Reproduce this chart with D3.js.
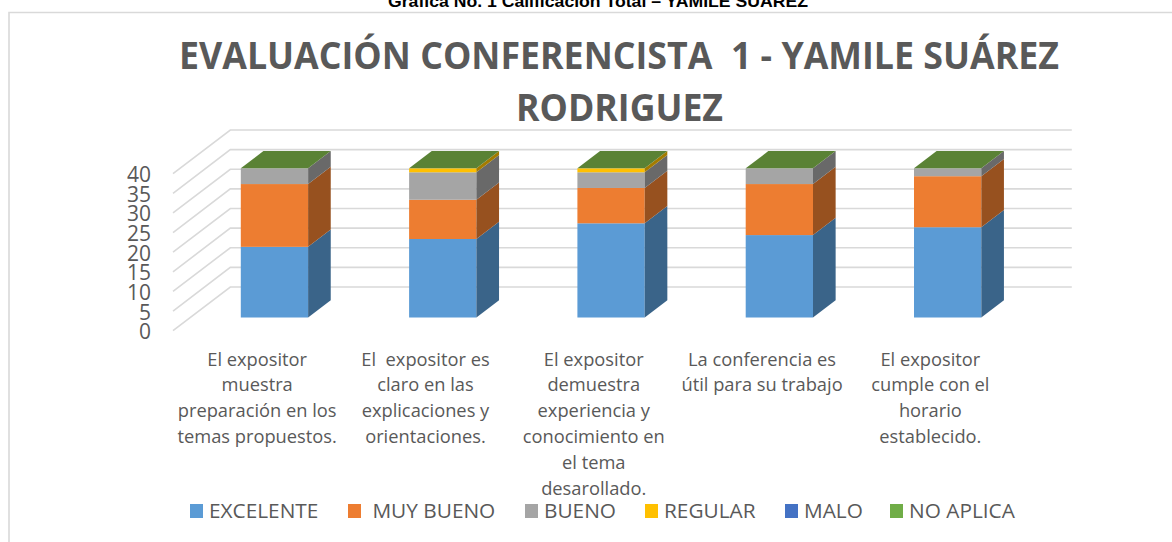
<!DOCTYPE html>
<html><head><meta charset="utf-8">
<script src="https://cdn.jsdelivr.net/npm/d3@7"></script>
<style>html,body{margin:0;padding:0;background:#fff;overflow:hidden}svg{display:block}</style>
</head><body><svg id="c" width="1172" height="542"></svg>
<script>
const categories=[
 ["El expositor","muestra","preparación en los","temas propuestos."],
 ["El  expositor es","claro en las","explicaciones y","orientaciones."],
 ["El expositor","demuestra","experiencia y","conocimiento en","el tema","desarollado."],
 ["La conferencia es","útil para su trabajo"],
 ["El expositor","cumple con el","horario","establecido."]];
const seriesNames=["EXCELENTE"," MUY BUENO","BUENO","REGULAR","MALO","NO APLICA"];
const excelente=[18,20,24,21,23];
const muyBueno=[16,10,9,13,13];
const bueno=[4,7,4,4,2];
const regular=[0,1,1,0,0];
const malo=[0,0,0,0,0];
const noAplica=[0,0,0,0,0];
const yTicks=[0,5,10,15,20,25,30,35,40];
const frontColors=["#5b9bd5","#ed7d31","#a5a5a5","#ffc000","#4472c4","#70ad47"];
const sideColors=["#3a6489","#97511f","#696969","#a37b00","#2c4a7d","#48702d"];
const topColor="#5a8235";
const svg=d3.select("#c");
const font="'Open Sans',sans-serif";
svg.append("path").attr("d","M9,543V12.5H1172").attr("fill","none").attr("stroke","#d9d9d9").attr("stroke-width",1.6);
svg.append("text").attr("x",598).attr("y",7).attr("text-anchor","middle").attr("font-family","'Liberation Sans'").attr("font-weight",700).attr("font-size",17).attr("fill","#000").attr("textLength",420).attr("lengthAdjust","spacingAndGlyphs").text("Grafica No. 1 Calificación Total – YAMILE SUÁREZ");
const title=svg.append("g").attr("font-family",font).attr("font-weight",700).attr("font-size",38).attr("fill","#595959").attr("text-anchor","middle");
title.append("text").attr("x",619).attr("y",69).attr("textLength",880).attr("lengthAdjust","spacingAndGlyphs").style("white-space","pre").text("EVALUACIÓN CONFERENCISTA  1 - YAMILE SUÁREZ");
title.append("text").attr("x",619.5).attr("y",120.7).attr("textLength",207).attr("lengthAdjust","spacingAndGlyphs").text("RODRIGUEZ");
const x=d3.scaleBand().domain(d3.range(5)).range([173,1014.5]);
const y=d3.scaleLinear().domain([0,40]).range([330.7,173.7]);
const depth={dx:57.3,dy:-43.7};
const barFrac=0.302, barDepth=0.395, barW=67.3;
const grid=svg.append("g").attr("fill","none").attr("stroke","#d9d9d9").attr("stroke-width",1.6);
yTicks.forEach(t=>{const v=y(t);
 grid.append("path").attr("d",`M${x.range()[0]},${v}L${x.range()[0]+depth.dx},${v+depth.dy}H${x.range()[1]+depth.dx}`);
});
const ya=svg.append("g").attr("font-family",font).attr("font-size",21).attr("fill","#595959").attr("text-anchor","end");
yTicks.forEach(t=>ya.append("text").attr("x",151).attr("y",y(t)+8.5).text(t));
const series=[excelente,muyBueno,bueno,regular,malo,noAplica];
const stack=d3.stack().keys(d3.range(6)).value((d,k)=>series[k][d])(d3.range(5));
const bars=svg.append("g");
d3.range(5).forEach(i=>{
 const x0=x(i)+x.bandwidth()/2+depth.dx*barFrac-barW/2, x1=x0+barW;
 const off=depth.dy*barFrac, dx=depth.dx*barDepth, dy=depth.dy*barDepth;
 stack.forEach((s,k)=>{
  const [a,b]=s[i]; if(b<=a) return;
  const ya0=y(a)+off, yb=y(b)+off;
  bars.append("rect").attr("x",x0).attr("y",yb).attr("width",barW).attr("height",ya0-yb).attr("fill",frontColors[k]);
  bars.append("path").attr("d",`M${x1},${ya0}L${x1+dx},${ya0+dy}V${yb+dy}L${x1},${yb}Z`).attr("fill",sideColors[k]);
 });
 const tot=y(d3.sum(series,s=>s[i]))+off;
 bars.append("path").attr("d",`M${x0},${tot}L${x0+dx},${tot+dy}H${x1+dx}L${x1},${tot}Z`).attr("fill",topColor);
});
const cat=svg.append("g").attr("font-family",font).attr("font-size",18.3).attr("fill","#595959").attr("text-anchor","middle");
categories.forEach((ls,i)=>ls.forEach((l,j)=>{
 cat.append("text").attr("x",x(i)+x.bandwidth()/2).attr("y",365.5+j*25.9).style("white-space","pre").text(l);
}));
const legendStarts=[190,348,525,645,785,890];
const leg=svg.append("g").attr("font-family",font).attr("font-size",20.8).attr("fill","#595959");
seriesNames.forEach((n,i)=>{
 leg.append("rect").attr("x",legendStarts[i]).attr("y",504).attr("width",13).attr("height",14).attr("fill",frontColors[i]);
 leg.append("text").attr("x",legendStarts[i]+19).attr("y",517.5).style("white-space","pre").text(n);
});
</script></body></html>
